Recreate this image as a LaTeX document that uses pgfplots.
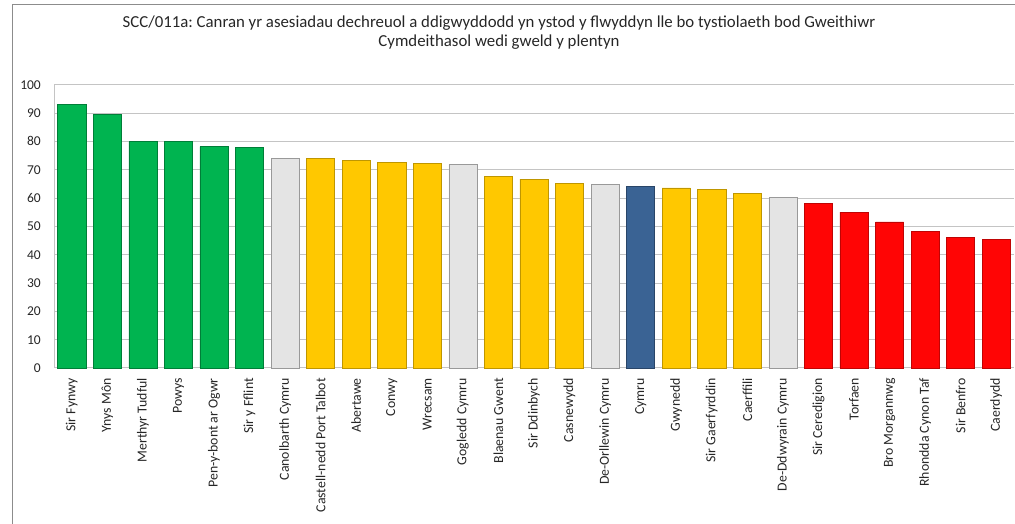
\documentclass[border=0pt]{standalone}
\usepackage{pgfplots}
\pgfplotsset{compat=1.18}
\usepackage{pgfplotstable}
\usepackage{fontspec}
\setmainfont{Carlito}
\frenchspacing
\definecolor{cgreen}{HTML}{00B450}
\definecolor{cyellow}{HTML}{FFC800}
\definecolor{cgrey}{HTML}{E4E4E4}
\definecolor{cblue}{HTML}{3A6394}
\definecolor{cred}{HTML}{FF0505}
\definecolor{gridc}{HTML}{C4C4C4}
\definecolor{framec}{HTML}{8C8C8C}

\pgfplotstableread{
x y
1 93.0
2 89.6
3 79.9
4 80.0
5 78.1
6 78.0
}\greendata
\pgfplotstableread{
x y
7 74.0
12 71.9
16 64.8
21 60.1
}\greydata
\pgfplotstableread{
x y
8 74.1
9 73.3
10 72.7
11 72.2
13 67.6
14 66.7
15 65.2
18 63.6
19 63.0
20 61.6
}\yellowdata
\pgfplotstableread{
x y
17 64.3
}\bluedata
\pgfplotstableread{
x y
22 58.1
23 55.0
24 51.6
25 48.2
26 46.2
27 45.3
}\reddata

\begin{document}
\begin{tikzpicture}
\path[use as bounding box] (0pt,0pt) rectangle (1015pt,524pt);
\draw[framec, line width=1pt] (12pt,0pt) -- (12pt,519pt) -- (1015pt,519pt);
\node[align=center, font=\fontsize{16.8}{18.5}\selectfont, text=black!85] at (499pt,491.5pt)
  {SCC/011a: Canran yr asesiadau dechreuol a ddigwyddodd yn ystod y flwyddyn lle bo tystiolaeth bod Gweithiwr\\Cymdeithasol wedi gweld y plentyn};
\begin{axis}[
  at={(54pt,156pt)}, anchor=south west,
  scale only axis, width=960pt, height=283.3pt,
  xmin=0.5, xmax=27.5, ymin=0, ymax=100,
  ybar, bar width=0.79, bar shift=0pt,
  xtick={1,...,27},
  xticklabels={Sir Fynwy, Ynys Môn, Merthyr Tudful, Powys, Pen-y-bont ar Ogwr, Sir y Fflint, Canolbarth Cymru, Castell-nedd Port Talbot, Abertawe, Conwy, Wrecsam, Gogledd Cymru, Blaenau Gwent, Sir Ddinbych, Casnewydd, De-Orllewin Cymru, Cymru, Gwynedd, Sir Gaerfyrddin, Caerffili, De-Ddwyrain Cymru, Sir Ceredigion, Torfaen, Bro Morgannwg, Rhondda Cynon Taf, Sir Benfro, Caerdydd},
  x tick label style={rotate=90, anchor=east, font=\fontsize{13.8}{15}\selectfont, text=black!85, inner sep=0pt},
  xticklabel shift=10pt,
  ytick={0,10,...,100},
  y tick label style={font=\fontsize{13.5}{15}\selectfont, text=black!85, inner sep=0pt},
  yticklabel shift=13pt,
  /pgf/number format/assume math mode=true,
  ymajorgrids, grid style={gridc, line width=1pt},
  axis x line*=bottom, axis y line*=left,
  axis line style={gridc, line width=1pt},
  major tick length=0pt, tick style={draw=none},
  clip=false,
]
\addplot[fill=cgreen, draw=cgreen!70!black, line width=0.6pt] table[x=x,y=y] {\greendata};
\addplot[fill=cgrey, draw=black!40, line width=0.6pt] table[x=x,y=y] {\greydata};
\addplot[fill=cyellow, draw=cyellow!75!black, line width=0.6pt] table[x=x,y=y] {\yellowdata};
\addplot[fill=cblue, draw=cblue!70!black, line width=0.6pt] table[x=x,y=y] {\bluedata};
\addplot[fill=cred, draw=cred!75!black, line width=0.6pt] table[x=x,y=y] {\reddata};
\end{axis}
\end{tikzpicture}
\end{document}
